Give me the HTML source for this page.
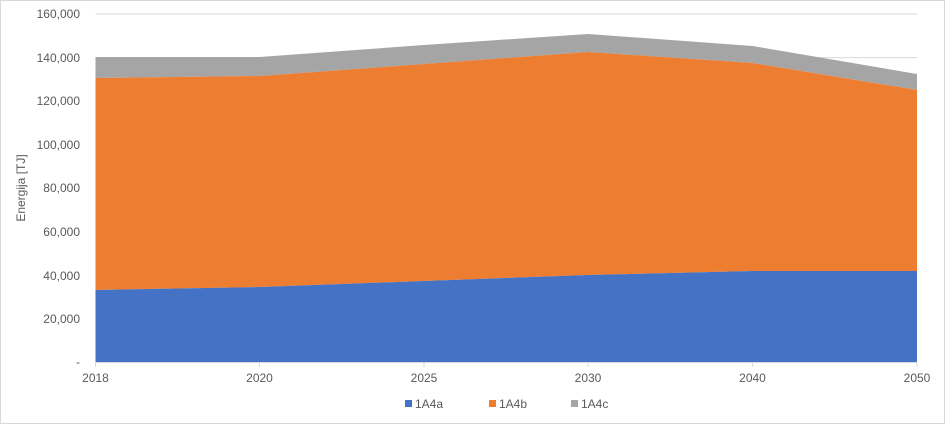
<!DOCTYPE html>
<html><head><meta charset="utf-8"><style>
body{margin:0;background:#fff}
svg{display:block;font-family:"Liberation Sans",sans-serif}
</style></head><body>
<svg width="945" height="424" viewBox="0 0 945 424">
<rect x="0.5" y="0.5" width="944" height="423" fill="#fff" stroke="#d9d9d9"/>
<g stroke="#d9d9d9" stroke-width="1">
<line x1="95.5" x2="917" y1="14" y2="14"/>
<line x1="95.5" x2="917" y1="57.6" y2="57.6"/>
<line x1="95.5" x2="917" y1="101.2" y2="101.2"/>
<line x1="95.5" x2="917" y1="144.8" y2="144.8"/>
<line x1="95.5" x2="917" y1="188.4" y2="188.4"/>
<line x1="95.5" x2="917" y1="232" y2="232"/>
<line x1="95.5" x2="917" y1="275.6" y2="275.6"/>
<line x1="95.5" x2="917" y1="319.2" y2="319.2"/>
</g>
<polygon fill="#a5a5a5" points="95.5,57 259.5,57 424,45 588,34 752.5,46 917,74 917,90 752.5,63 588,52 424,64 259.5,76 95.5,78"/>
<polygon fill="#ed7d31" points="95.5,78 259.5,76 424,64 588,52 752.5,63 917,90 917,271 752.5,271 588,275 424,281 259.5,287 95.5,290"/>
<polygon fill="#4472c4" points="95.5,290 259.5,287 424,281 588,275 752.5,271 917,271 917,362 95.5,362"/>
<line x1="95.5" x2="917" y1="362.5" y2="362.5" stroke="#d9d9d9"/>
<g stroke="#d9d9d9"><line x1="95.5" x2="95.5" y1="362" y2="367"/><line x1="259.5" x2="259.5" y1="362" y2="367"/><line x1="424" x2="424" y1="362" y2="367"/><line x1="588" x2="588" y1="362" y2="367"/><line x1="752.5" x2="752.5" y1="362" y2="367"/><line x1="917" x2="917" y1="362" y2="367"/></g>
<g font-size="12" fill="#595959" text-anchor="end">
<text x="80" y="18">160,000</text>
<text x="80" y="62">140,000</text>
<text x="80" y="105">120,000</text>
<text x="80" y="149">100,000</text>
<text x="80" y="192">80,000</text>
<text x="80" y="236">60,000</text>
<text x="80" y="280">40,000</text>
<text x="80" y="323">20,000</text>
<text x="80" y="366">-</text>
</g>
<g font-size="12" fill="#595959" text-anchor="middle">
<text x="95.5" y="382">2018</text>
<text x="259.5" y="382">2020</text>
<text x="424" y="382">2025</text>
<text x="588" y="382">2030</text>
<text x="752.5" y="382">2040</text>
<text x="917" y="382">2050</text>
</g>
<text transform="translate(25,188) rotate(-90)" font-size="12" fill="#595959" text-anchor="middle">Energija [TJ]</text>
<g font-size="12" fill="#595959">
<rect x="405" y="400" width="7" height="7" fill="#4472c4"/><text x="415" y="408">1A4a</text>
<rect x="489" y="400" width="7" height="7" fill="#ed7d31"/><text x="499" y="408">1A4b</text>
<rect x="571" y="400" width="7" height="7" fill="#a5a5a5"/><text x="581" y="408">1A4c</text>
</g>
</svg>
</body></html>
